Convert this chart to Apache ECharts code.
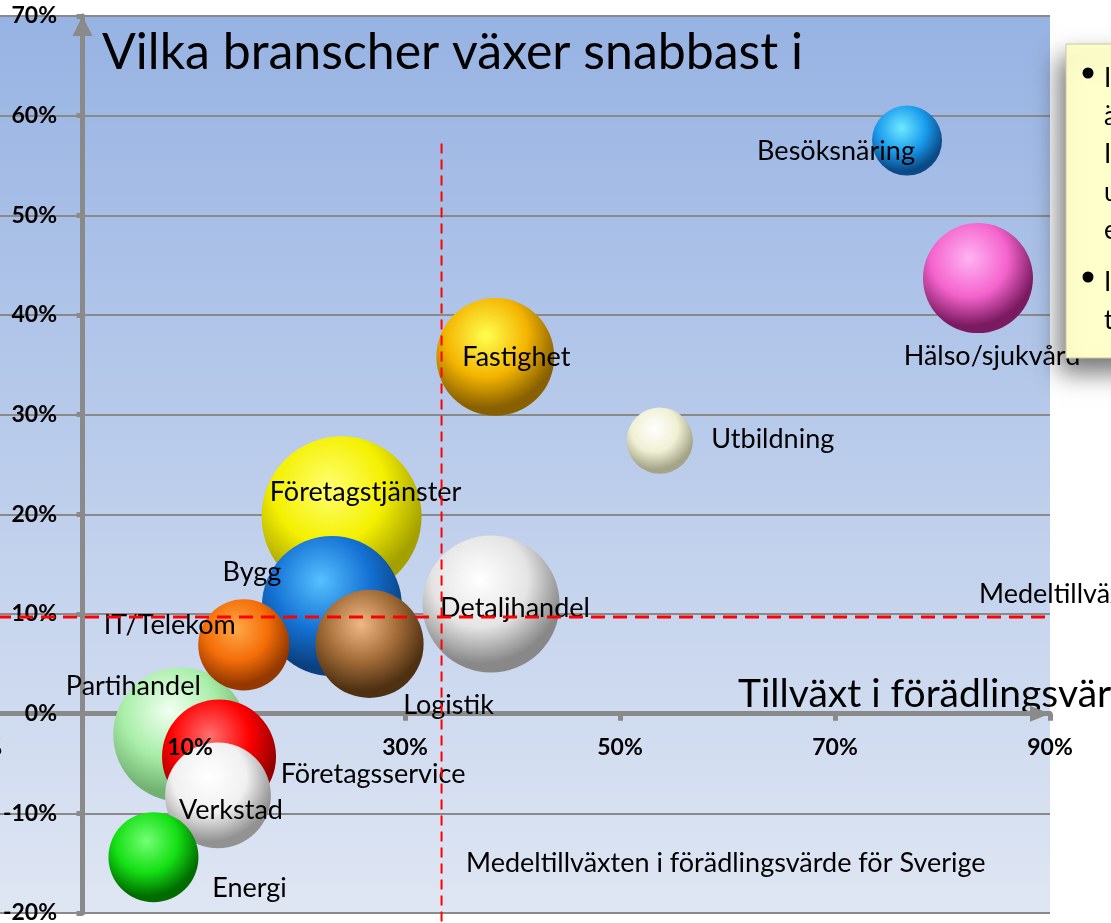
<!DOCTYPE html>
<html>
<head>
<meta charset="utf-8">
<script src="https://cdn.jsdelivr.net/npm/echarts@6/dist/echarts.min.js"></script>
<style>
  html, body { margin: 0; padding: 0; background: #fff; }
  #chart { width: 1111px; height: 923px; }
</style>
</head>
<body>
<div id="chart"></div>
<script>
// tillväxt per bransch, i procent
const industries = ['Besöksnäring', 'Hälso/sjukvård', 'Fastighet', 'Utbildning', 'Företagstjänster', 'Detaljhandel',
  'Bygg', 'Logistik', 'IT/Telekom', 'Partihandel', 'Företagsservice', 'Verkstad', 'Energi']
const valueAddedGrowth = [76.7, 83.3, 38.4, 53.7, 24.1, 38.0, 23.2, 26.7, 15.0, 9.1, 12.7, 12.6, 6.6]
const employmentGrowth = [57.5, 43.7, 35.8, 27.4, 19.8, 11.0, 10.8, 7.0, 6.9, -2.1, -4.3, -8.2, -14.4]
const bubbleSize = [49, 121, 139, 44, 256, 188, 196, 117, 83, 180, 130, 112, 81]

const xTicks = [-10, 10, 30, 50, 70, 90]
const yTicks = [-20, -10, 0, 10, 20, 30, 40, 50, 60, 70]

const avgValueAdded = 33.4   // Medeltillväxten i förädlingsvärde för Sverige
const avgEmployment = 9.7

// [bas, ljus, mörk]
const COLORS = {
  'Besöksnäring': ['#1a9cee', '#70e8ff', '#0a4a86'],
  'Hälso/sjukvård': ['#f463cc', '#ffb4f4', '#7a1a60'],
  'Fastighet': ['#f4b400', '#ffff50', '#886000'],
  'Utbildning': ['#f0f0d4', '#ffffff', '#a4a488'],
  'Företagstjänster': ['#f4f000', '#ffff70', '#a4a000'],
  'Detaljhandel': ['#e4e4e4', '#ffffff', '#888888'],
  'Bygg': ['#1472d4', '#56c0ff', '#0a4080'],
  'Logistik': ['#a06a36', '#f0b884', '#4e3012'],
  'IT/Telekom': ['#f46e08', '#ffa848', '#943800'],
  'Partihandel': ['#a8eea8', '#f2fff2', '#70b070'],
  'Företagsservice': ['#ff0000', '#ff7070', '#900000'],
  'Verkstad': ['#f0f0f0', '#ffffff', '#929292'],
  'Energi': ['#14e014', '#74ff74', '#006c00'],
}
// etikettens förskjutning från bubblans mitt
const LABEL_OFFSET = {
  'Besöksnäring': [-71, 11], 'Hälso/sjukvård': [14, 78], 'Fastighet': [21, 0], 'Utbildning': [113, -1],
  'Företagstjänster': [24, -24], 'Detaljhandel': [24, 4], 'Bygg': [-80, -34], 'Logistik': [79, 61],
  'IT/Telekom': [-74, -20], 'Partihandel': [-47, -48], 'Företagsservice': [154, 18], 'Verkstad': [13, 15],
  'Energi': [96, 31],
}

const FONT = 'Lato, "Open Sans", sans-serif'
const GRAY = '#8a8a8a'

function sphere(c) {
  return new echarts.graphic.RadialGradient(0.42, 0.32, 0.7, [
    { offset: 0, color: c[1] },
    { offset: 0.5, color: c[0] },
    { offset: 0.88, color: c[2] },
    { offset: 1, color: c[2] },
  ])
}

// större bubblor ritas först, som i Excel
const order = industries.map((_, i) => i).sort((a, b) => bubbleSize[b] - bubbleSize[a])
const bubbles = order.map((i) => ({
  name: industries[i],
  value: [valueAddedGrowth[i], employmentGrowth[i], bubbleSize[i]],
  itemStyle: { color: sphere(COLORS[industries[i]]), opacity: 1 },
  label: { offset: LABEL_OFFSET[industries[i]] },
}))

const xAxisBase = {
  type: 'value', position: 'bottom', min: xTicks[0], max: xTicks[xTicks.length - 1], interval: xTicks[1] - xTicks[0],
  splitLine: { show: false },
}
const tickLabel = { color: '#000', fontWeight: 'bold', fontSize: 23, fontFamily: FONT, formatter: (v) => v + '%' }

const chart = echarts.init(document.getElementById('chart'), null, { renderer: 'canvas' })
chart.setOption({
  animation: false,
  grid: {
    left: -25, right: 61, top: 16, bottom: 10, show: true, borderWidth: 0,
    outerBoundsMode: 'none', containLabel: false,
    backgroundColor: new echarts.graphic.LinearGradient(0, 0, 0, 1, [
      { offset: 0, color: '#97b3e3' },
      { offset: 1, color: '#dfe6f3' },
    ]),
  },
  xAxis: [
    {
      ...xAxisBase,
      axisLine: { onZero: true, symbol: ['none', 'triangle'], symbolSize: [16, 20], symbolOffset: [0, -10],
        lineStyle: { color: GRAY, width: 5 } },
      axisTick: { show: true, length: 7, lineStyle: { color: GRAY, width: 5 } },
      axisLabel: { show: false },
    },
    {
      // bara etiketterna, ovanpå bubblorna
      ...xAxisBase, z: 4,
      axisLine: { show: false, onZero: false },
      axisTick: { show: false },
      axisLabel: { ...tickLabel, margin: -177 },
    },
  ],
  yAxis: {
    type: 'value', min: yTicks[0], max: yTicks[yTicks.length - 1], interval: yTicks[1] - yTicks[0],
    axisLine: { onZero: true, symbol: ['none', 'triangle'], symbolSize: [20, 20], symbolOffset: [0, -10],
      lineStyle: { color: GRAY, width: 5 } },
    axisTick: { show: true, length: 6, lineStyle: { color: GRAY, width: 5 } },
    axisLabel: { ...tickLabel, margin: -82 },
    splitLine: { lineStyle: { color: GRAY, width: 2 } },
  },
  series: [
    {
      type: 'scatter',
      data: bubbles,
      symbolSize: (v) => Math.sqrt(v[2]) * 10,
      label: { show: true, position: 'inside', formatter: '{b}', color: '#000', fontSize: 27, fontFamily: FONT },
      emphasis: { disabled: true },
      z: 2,
    },
    {
      type: 'line', clip: false, symbol: 'none', z: 3, silent: true,
      data: [[-10, avgEmployment], [100, avgEmployment]],
      lineStyle: { color: '#ff0000', width: 3, type: [14, 8] },
    },
    {
      type: 'line', clip: false, symbol: 'none', z: 3, silent: true,
      data: [[avgValueAdded, 57.2], [avgValueAdded, -21]],
      lineStyle: { color: '#ff0000', width: 2, type: [10, 6] },
    },
  ],
  graphic: [
    { type: 'text', x: 102, y: 53, style: { text: 'Vilka branscher växer snabbast i', font: '50px ' + FONT,
      fill: '#000', textVerticalAlign: 'middle' } },
    { type: 'text', x: 738, y: 694, style: { text: 'Tillväxt i förädlingsvärde', font: '39px ' + FONT,
      fill: '#000', textVerticalAlign: 'middle' } },
    { type: 'text', x: 466, y: 863, style: { text: 'Medeltillväxten i förädlingsvärde för Sverige', font: '27px ' + FONT,
      fill: '#000', textVerticalAlign: 'middle' } },
    { type: 'text', x: 979, y: 594, style: { text: 'Medeltillväxt', font: '27px ' + FONT,
      fill: '#000', textVerticalAlign: 'middle' } },
    // gul textruta, avskuren av bildkanten
    { type: 'rect', z: 100, shape: { x: 1066, y: 44, width: 120, height: 314 },
      style: { fill: '#ffffcc', stroke: '#c8c8a0', lineWidth: 1, shadowBlur: 24, shadowColor: 'rgba(0,0,0,0.55)',
        shadowOffsetX: -6, shadowOffsetY: 14 } },
    { type: 'circle', z: 101, shape: { cx: 1088, cy: 73, r: 5.5 }, style: { fill: '#000' } },
    { type: 'circle', z: 101, shape: { cx: 1088, cy: 277, r: 5.5 }, style: { fill: '#000' } },
    { type: 'text', z: 101, x: 1104, y: 60, style: { text: 'I\nä\nI\nu\ne', font: '26px ' + FONT, fill: '#000',
      lineHeight: 38 } },
    { type: 'text', z: 101, x: 1104, y: 264, style: { text: 'I\nt', font: '26px ' + FONT, fill: '#000',
      lineHeight: 38 } },
  ],
})
</script>
</body>
</html>
